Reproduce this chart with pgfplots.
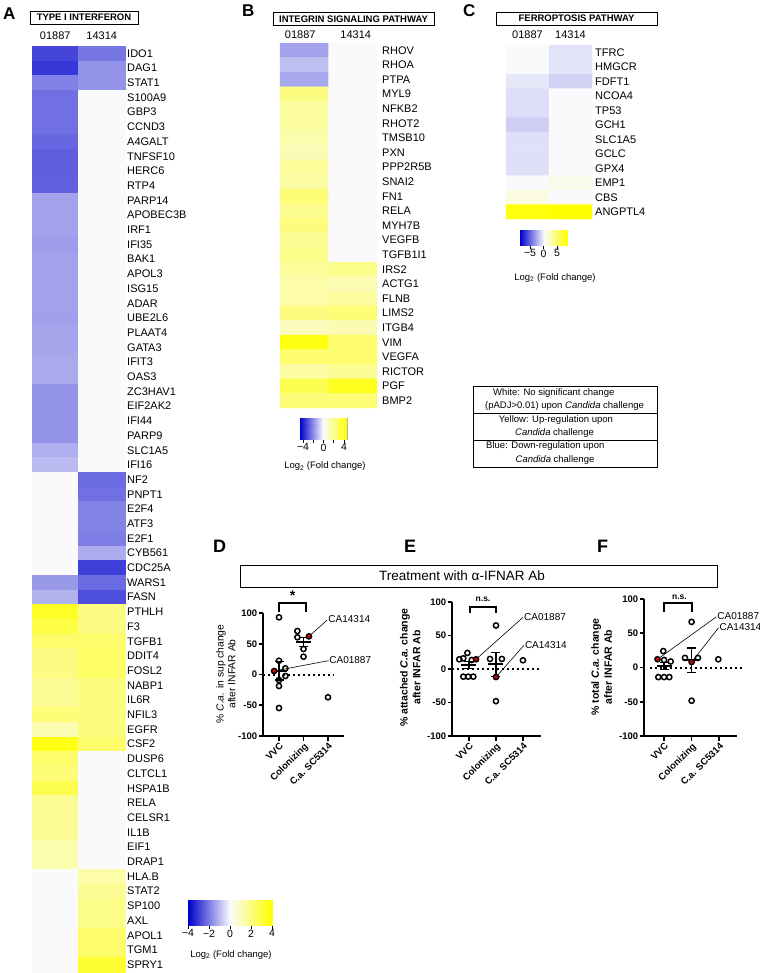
\documentclass[border=0pt]{standalone}
\usepackage{pgfplots}
\pgfplotsset{compat=1.18}
\usepackage{fontspec}
\setmainfont{Liberation Sans}
\newcommand\fsz[2]{\fontsize{#1bp}{#2bp}\selectfont}
\tikzset{
  colhead/.style={anchor=south, inner sep=0pt, font=\fsz{11}{12}},
  ann/.style={black, line width=0.6bp},
  annt/.style={anchor=west, inner sep=0pt, font=\fsz{10}{11}}
}
\pgfplotsset{
  colormap={bwy}{rgb255=(0,0,205) rgb255=(250,250,253) rgb255=(255,255,0)},
  heat/.style={scale only axis, anchor=north west, y dir=reverse,
    axis line style={draw=none}, major tick length=0pt, tick style={draw=none},
    xmin=-0.5, xmax=1.5, xtick=\empty, colormap name=bwy, clip=false,
    yticklabel pos=right,
    yticklabel style={font=\fsz{11}{12}, anchor=west, inner sep=0pt}},
  cbar/.style={scale only axis, anchor=north west, ymin=0, ymax=1, ytick=\empty,
    colormap name=bwy, axis line style={draw=gray!60, line width=0.7bp},
    tick align=outside, xtick pos=left, major tick length=3.5bp,
    tick style={black, line width=0.8bp}, enlargelimits=false, clip=false,
    xticklabel style={font=\fsz{10.5}{12}, inner sep=1bp}},
  dot/.style={scale only axis, anchor=south west, axis lines=left,
    axis line style={line width=1.9bp, -}, tick style={line width=1.7bp, black},
    tick align=outside, major tick length=4.5bp, ymin=-100, ymax=100,
    ytick={-100,-50,0,50,100}, yticklabels={-100,-50,0,50,100},
    xtick={1,2,3}, xticklabels={VVC,Colonizing,C.a. SC5314},
    yticklabel style={font=\bfseries\fsz{9.5}{10}, inner sep=1.2bp},
    xticklabel style={font=\bfseries\fsz{9.5}{10}, rotate=45, anchor=north east, inner sep=1bp},
    clip=false},
  pts/.style={only marks, mark=o, mark size=2.6bp, mark options={line width=1.5bp, black}},
  redpt/.style={only marks, mark=*, mark size=2.6bp, mark options={line width=1.5bp, draw=black, fill=red!90!black}},
  meanbar/.style={only marks, mark=-, mark size=7.5bp, mark options={line width=1.7bp, black},
    error bars/.cd, y dir=both, y explicit, error bar style={line width=1.5bp, black},
    error mark options={rotate=90, mark size=4.5bp, line width=1.5bp, black}},
  zeroline/.style={black, line width=2bp, dash pattern=on 2bp off 3bp},
  brk/.style={black, line width=2.2bp}
}
\begin{document}
\begin{tikzpicture}
\useasboundingbox (0,0) rectangle (760bp,-973bp);
% panel letters
\node[anchor=base west, inner sep=0, font=\bfseries\fsz{17}{18}] at (3bp,-19.5bp) {A};
\node[anchor=base west, inner sep=0, font=\bfseries\fsz{17}{18}] at (242bp,-16bp) {B};
\node[anchor=base west, inner sep=0, font=\bfseries\fsz{17}{18}] at (463bp,-16bp) {C};
\node[anchor=base west, inner sep=0, font=\bfseries\fsz{18}{19}] at (213bp,-552bp) {D};
\node[anchor=base west, inner sep=0, font=\bfseries\fsz{18}{19}] at (404bp,-552bp) {E};
\node[anchor=base west, inner sep=0, font=\bfseries\fsz{18}{19}] at (597bp,-552bp) {F};
% headers
\node[draw, line width=1bp, minimum width=108bp, minimum height=13bp, inner sep=0pt, font=\bfseries\fsz{9.5}{10}] at (84bp,-17.5bp) {TYPE I INTERFERON};
\node[draw, line width=1bp, minimum width=161bp, minimum height=13bp, inner sep=0pt, font=\bfseries\fsz{9.5}{10}] at (353.5bp,-19bp) {INTEGRIN SIGNALING PATHWAY};
\node[draw, line width=1bp, minimum width=161bp, minimum height=13bp, inner sep=0pt, font=\bfseries\fsz{9.5}{10}] at (576.5bp,-18.5bp) {FERROPTOSIS PATHWAY};

% ---------- Panel A heatmap ----------
\begin{axis}[heat, at={(32bp,-46bp)}, width=93bp, height=926bp,
  ymin=-0.5, ymax=62.5, point meta min=-4, point meta max=4,
  ytick={0,...,62}, yticklabel style={xshift=2bp},
  yticklabels={IDO1,DAG1,STAT1,S100A9,GBP3,CCND3,A4GALT,TNFSF10,HERC6,RTP4,PARP14,APOBEC3B,IRF1,IFI35,BAK1,APOL3,ISG15,ADAR,UBE2L6,PLAAT4,GATA3,IFIT3,OAS3,ZC3HAV1,EIF2AK2,IFI44,PARP9,SLC1A5,IFI16,NF2,PNPT1,E2F4,ATF3,E2F1,CYB561,CDC25A,WARS1,FASN,PTHLH,F3,TGFB1,DDIT4,FOSL2,NABP1,IL6R,NFIL3,EGFR,CSF2,DUSP6,CLTCL1,HSPA1B,RELA,CELSR1,IL1B,EIF1,DRAP1,HLA.B,STAT2,SP100,AXL,APOL1,TGM1,SPRY1}]
\addplot[matrix plot*, mesh/cols=2, point meta=explicit] table[meta=c, row sep=\\] {
x y c\\
0 0 -2.9\\ 1 0 -2.1\\
0 1 -3.1\\ 1 1 -1.65\\
0 2 -1.95\\ 1 2 -1.65\\
0 3 -2.2\\ 1 3 0\\
0 4 -2.2\\ 1 4 0\\
0 5 -2.2\\ 1 5 0\\
0 6 -2.35\\ 1 6 0\\
0 7 -2.5\\ 1 7 0\\
0 8 -2.5\\ 1 8 0\\
0 9 -2.45\\ 1 9 0\\
0 10 -1.4\\ 1 10 0\\
0 11 -1.4\\ 1 11 0\\
0 12 -1.4\\ 1 12 0\\
0 13 -1.5\\ 1 13 0\\
0 14 -1.4\\ 1 14 0\\
0 15 -1.4\\ 1 15 0\\
0 16 -1.4\\ 1 16 0\\
0 17 -1.4\\ 1 17 0\\
0 18 -1.45\\ 1 18 0\\
0 19 -1.35\\ 1 19 0\\
0 20 -1.35\\ 1 20 0\\
0 21 -1.3\\ 1 21 0\\
0 22 -1.3\\ 1 22 0\\
0 23 -1.65\\ 1 23 0\\
0 24 -1.65\\ 1 24 0\\
0 25 -1.65\\ 1 25 0\\
0 26 -1.65\\ 1 26 0\\
0 27 -1.2\\ 1 27 0\\
0 28 -1.0\\ 1 28 0\\
0 29 0\\ 1 29 -2.3\\
0 30 0\\ 1 30 -2.2\\
0 31 0\\ 1 31 -1.9\\
0 32 0\\ 1 32 -1.9\\
0 33 0\\ 1 33 -2.0\\
0 34 0\\ 1 34 -1.25\\
0 35 0\\ 1 35 -3.0\\
0 36 -1.55\\ 1 36 -2.3\\
0 37 -1.15\\ 1 37 -2.75\\
0 38 3.4\\ 1 38 1.95\\
0 39 2.9\\ 1 39 1.95\\
0 40 2.3\\ 1 40 2.3\\
0 41 1.95\\ 1 41 2.4\\
0 42 1.95\\ 1 42 2.4\\
0 43 1.65\\ 1 43 2.0\\
0 44 1.65\\ 1 44 2.0\\
0 45 2.1\\ 1 45 2.0\\
0 46 1.2\\ 1 46 2.0\\
0 47 3.7\\ 1 47 2.3\\
0 48 2.3\\ 1 48 0\\
0 49 2.1\\ 1 49 0\\
0 50 2.75\\ 1 50 0\\
0 51 1.65\\ 1 51 0\\
0 52 1.65\\ 1 52 0\\
0 53 1.65\\ 1 53 0\\
0 54 1.25\\ 1 54 0\\
0 55 1.25\\ 1 55 0\\
0 56 0\\ 1 56 1.3\\
0 57 0\\ 1 57 1.65\\
0 58 0\\ 1 58 1.8\\
0 59 0\\ 1 59 1.8\\
0 60 0\\ 1 60 2.3\\
0 61 0\\ 1 61 2.3\\
0 62 0\\ 1 62 3.2\\
};
\node[colhead, yshift=6bp] at (axis cs:0,-0.5) {01887};
\node[colhead, yshift=6bp] at (axis cs:1,-0.5) {14314};
\end{axis}

% ---------- Panel B heatmap ----------
\begin{axis}[heat, at={(280bp,-43bp)}, width=97bp, height=365bp,
  ymin=-0.5, ymax=24.5, point meta min=-4.6, point meta max=4.6,
  ytick={0,...,24}, yticklabel style={xshift=5bp},
  yticklabels={RHOV,RHOA,PTPA,MYL9,NFKB2,RHOT2,TMSB10,PXN,PPP2R5B,SNAI2,FN1,RELA,MYH7B,VEGFB,TGFB1I1,IRS2,ACTG1,FLNB,LIMS2,ITGB4,VIM,VEGFA,RICTOR,PGF,BMP2}]
\addplot[matrix plot*, mesh/cols=2, point meta=explicit] table[meta=c, row sep=\\] {
x y c\\
0 0 -1.62\\ 1 0 0\\
0 1 -1.08\\ 1 1 0\\
0 2 -1.53\\ 1 2 0\\
0 3 2.25\\ 1 3 0\\
0 4 1.7\\ 1 4 0\\
0 5 1.7\\ 1 5 0\\
0 6 1.45\\ 1 6 0\\
0 7 1.26\\ 1 7 0\\
0 8 1.8\\ 1 8 0\\
0 9 1.62\\ 1 9 0\\
0 10 2.44\\ 1 10 0\\
0 11 1.98\\ 1 11 0\\
0 12 2.34\\ 1 12 0\\
0 13 1.9\\ 1 13 0\\
0 14 2.07\\ 1 14 0\\
0 15 1.8\\ 1 15 2.07\\
0 16 1.53\\ 1 16 1.35\\
0 17 1.53\\ 1 17 1.7\\
0 18 2.25\\ 1 18 2.44\\
0 19 1.17\\ 1 19 1.35\\
0 20 4.3\\ 1 20 2.6\\
0 21 2.6\\ 1 21 2.6\\
0 22 1.6\\ 1 22 1.9\\
0 23 3.15\\ 1 23 4.05\\
0 24 2.44\\ 1 24 2.5\\
};
\node[colhead, yshift=4bp, xshift=-4bp] at (axis cs:0,-0.5) {01887};
\node[colhead, yshift=4bp, xshift=3bp] at (axis cs:1,-0.5) {14314};
\end{axis}

% ---------- Panel C heatmap ----------
\begin{axis}[heat, at={(506bp,-45bp)}, width=86bp, height=174bp,
  ymin=-0.5, ymax=11.5, point meta min=-8.7, point meta max=8.7,
  ytick={0,...,11}, yticklabel style={xshift=3bp},
  yticklabels={TFRC,HMGCR,FDFT1,NCOA4,TP53,GCH1,SLC1A5,GCLC,GPX4,EMP1,CBS,ANGPTL4}]
\addplot[matrix plot*, mesh/cols=2, point meta=explicit] table[meta=c, row sep=\\] {
x y c\\
0 0 0\\ 1 0 -0.8\\
0 1 0\\ 1 1 -0.8\\
0 2 -0.68\\ 1 2 -1.4\\
0 3 -1.0\\ 1 3 0\\
0 4 -1.0\\ 1 4 0\\
0 5 -1.53\\ 1 5 0\\
0 6 -0.92\\ 1 6 0\\
0 7 -0.92\\ 1 7 0\\
0 8 -0.92\\ 1 8 0\\
0 9 0\\ 1 9 0.7\\
0 10 1.0\\ 1 10 0\\
0 11 8.3\\ 1 11 8.7\\
};
\node[colhead, yshift=5.7bp] at (axis cs:0,-0.5) {01887};
\node[colhead, yshift=5.7bp] at (axis cs:1,-0.5) {14314};
\end{axis}

% ---------- colour bars ----------
\begin{axis}[cbar, at={(188bp,-900bp)}, width=84bp, height=25bp,
  xmin=-4, xmax=4, point meta min=-4, point meta max=4,
  xtick={-4,-2,0,2,4}, xticklabels={−4,−2,0,2,4}]
\addplot[surf, shader=interp, mesh/cols=3, point meta=explicit] table[meta=c, row sep=\\] {
x y c\\ -4 0 -4\\ 0 0 0\\ 4 0 4\\ -4 1 -4\\ 0 1 0\\ 4 1 4\\};
\node[font=\fsz{9.5}{10}, inner sep=0pt] at (axis description cs:0.512,-1.2) {Log\textsubscript{2} (Fold change)};
\end{axis}
\begin{axis}[cbar, at={(300bp,-418bp)}, width=47bp, height=21bp,
  xmin=-4.6, xmax=4.6, point meta min=-4.6, point meta max=4.6,
  xtick={-4,-2,0,2,4}, xticklabels={−4,,0,,4}]
\addplot[surf, shader=interp, mesh/cols=3, point meta=explicit] table[meta=c, row sep=\\] {
x y c\\ -4.6 0 -4.6\\ 0 0 0\\ 4.6 0 4.6\\ -4.6 1 -4.6\\ 0 1 0\\ 4.6 1 4.6\\};
\node[font=\fsz{9.5}{10}, inner sep=0pt] at (axis description cs:0.53,-1.29) {Log\textsubscript{2} (Fold change)};
\end{axis}
\begin{axis}[cbar, at={(520bp,-230bp)}, width=47bp, height=15bp,
  xmin=-8.7, xmax=8.7, point meta min=-8.7, point meta max=8.7,
  xtick={-5,0,5}, xticklabels={−5,0,5}]
\addplot[surf, shader=interp, mesh/cols=3, point meta=explicit] table[meta=c, row sep=\\] {
x y c\\ -8.7 0 -8.7\\ 0 0 0\\ 8.7 0 8.7\\ -8.7 1 -8.7\\ 0 1 0\\ 8.7 1 8.7\\};
\node[font=\fsz{9.5}{10}, inner sep=0pt] at (axis description cs:0.745,-2.2) {Log\textsubscript{2} (Fold change)};
\end{axis}

% ---------- key box ----------
\draw[line width=0.8bp] (473bp,-386bp) rectangle (657bp,-467bp);
\draw[line width=0.8bp] (473bp,-413bp) -- (657bp,-413bp);
\draw[line width=0.8bp] (473bp,-440bp) -- (657bp,-440bp);
\begin{scope}[every node/.style={inner sep=0pt, font=\fsz{9.5}{11}}]
\node at (553.7bp,-393bp) {White: No significant change};
\node at (564.5bp,-406.5bp) {(pADJ>0.01) upon \textit{Candida} challenge};
\node at (556bp,-420bp) {Yellow: Up-regulation upon};
\node at (554.5bp,-433bp) {\textit{Candida} challenge};
\node at (545.3bp,-446.5bp) {Blue: Down-regulation upon};
\node at (555bp,-460bp) {\textit{Candida} challenge};
\end{scope}

% ---------- treatment banner ----------
\draw[line width=1bp] (240bp,-565bp) rectangle (717bp,-587bp);
\node[inner sep=0pt, font=\fsz{13.5}{14}] at (462bp,-576bp) {Treatment with α-IFNAR Ab};

% ---------- Panel D ----------
\begin{axis}[dot, at={(263bp,-736bp)}, width=81bp, height=123bp, xmin=0.347, xmax=3.653,
  ylabel={\% \textit{C.a.} in sup change\\after INFAR Ab},
  ylabel style={at={(axis description cs:-0.458,0.504)}, anchor=center, align=center, font=\fsz{10.3}{11.7}}]
\addplot[zeroline] coordinates {(0.347,0) (3.245,0)};
\addplot[meanbar] coordinates {(1,5.8) +- (0,15) (2,52.7) +- (0,7.5)};
\addplot[pts] coordinates {(1,93) (1,22.4) (1.26,10) (1.26,-2.4) (1,-9) (1,-18.7) (1,-54.5)
  (1.75,70.7) (1.75,60.5) (2,41.5) (2,29) (3,-37)};
\addplot[redpt] coordinates {(0.8,5.7) (2.22,62)};
\addplot[brk] coordinates {(1,102) (1,115.7) (2.1,115.7) (2.1,102)};
\node[font=\bfseries\fsz{14}{14}, inner sep=0pt] at (axis cs:1.55,127.6) {*};
\draw[ann] (axis cs:2.22,62) -- (axis cs:2.97,88.6);
\draw[ann] (axis cs:0.8,5.7) -- (axis cs:3.02,22.5);
\node[annt] at (axis cs:3.01,89.8) {CA14314};
\node[annt] at (axis cs:3.05,23.6) {CA01887};
\end{axis}

% ---------- Panel E ----------
\begin{axis}[dot, at={(452bp,-736bp)}, width=89bp, height=134bp, xmin=0.37, xmax=3.67,
  ylabel={\% attached \textit{C.a.} change\\after INFAR Ab},
  ylabel style={at={(axis description cs:-0.4685,0.511)}, anchor=center, align=center, font=\bfseries\fsz{10.5}{12.7}}]
\addplot[zeroline] coordinates {(0.37,0) (3.59,0)};
\addplot[meanbar] coordinates {(1,6) +- (0,5) (2,7) +- (0,18)};
\addplot[pts] coordinates {(0.94,24) (0.79,16) (0.64,14.5) (1.1,13.4) (0.79,-11.4) (0.97,-11.4) (1.16,-11.4)
  (1.78,15) (2.22,15) (2,65) (2,-48) (3,13)};
\addplot[redpt] coordinates {(1.26,14.5) (2,-12)};
\addplot[brk] coordinates {(1.04,83) (1.04,93) (2,93) (2,83)};
\node[font=\bfseries\fsz{8.5}{9}, inner sep=0pt] at (axis cs:1.52,104) {n.s.};
\draw[ann] (axis cs:1.26,14.5) -- (axis cs:3.0,77);
\draw[ann] (axis cs:2,-12) -- (axis cs:3.03,35);
\node[annt] at (axis cs:3.04,77.6) {CA01887};
\node[annt] at (axis cs:3.07,35.8) {CA14314};
\end{axis}

% ---------- Panel F ----------
\begin{axis}[dot, at={(644bp,-736bp)}, width=93bp, height=137bp, xmin=0.27, xmax=3.65,
  ylabel={\% total \textit{C.a.} change\\after INFAR Ab},
  ylabel style={at={(axis description cs:-0.457,0.504)}, anchor=center, align=center, font=\bfseries\fsz{10.5}{13}}]
\addplot[zeroline] coordinates {(0.48,0) (3.9,0)};
\addplot[meanbar] coordinates {(1,2) +- (0,5) (2,10.8) +- (0,18)};
\addplot[pts] coordinates {(0.97,24) (1.0,11) (1.24,8.8) (0.79,-14) (1.0,-14) (1.19,-14)
  (1.76,14) (2.23,14) (2,66.6) (2,-48.5) (2.97,12)};
\addplot[redpt] coordinates {(0.76,12) (2,8)};
\addplot[brk] coordinates {(1,81) (1,94) (2,94) (2,81)};
\node[font=\bfseries\fsz{8.5}{9}, inner sep=0pt] at (axis cs:1.56,102) {n.s.};
\draw[ann] (axis cs:0.76,12) -- (axis cs:2.9,74);
\draw[ann] (axis cs:2,8) -- (axis cs:2.98,58);
\node[annt] at (axis cs:2.93,75) {CA01887};
\node[annt] at (axis cs:3.01,58.8) {CA14314};
\end{axis}
\end{tikzpicture}
\end{document}
